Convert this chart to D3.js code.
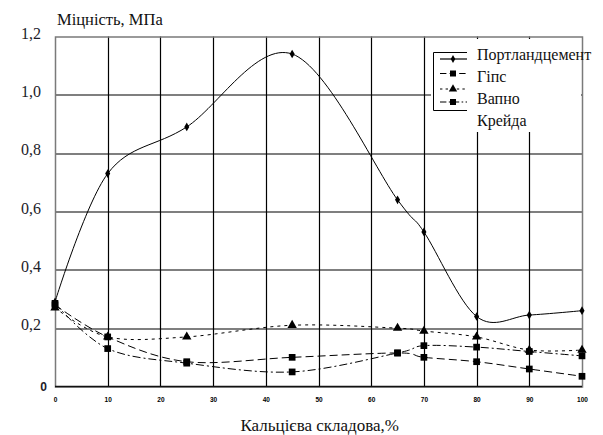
<!DOCTYPE html>
<html>
<head>
<meta charset="utf-8">
<script src="https://cdn.jsdelivr.net/npm/d3@7"></script>
</head>
<body style="margin:0;background:#fff">
<div class="chart"></div>
<script>
// data
var xValues = [0, 10, 25, 45, 65, 70, 80, 90, 100];
var portland = [0.29, 0.73, 0.89, 1.14, 0.64, 0.53, 0.24, 0.245, 0.26];
var gips = [0.28, 0.17, 0.085, 0.10, 0.115, 0.10, 0.085, 0.06, 0.035];
var vapno = [0.27, 0.17, 0.17, 0.21, 0.20, 0.19, 0.17, 0.125, 0.125];
var kreida = [0.285, 0.13, 0.08, 0.05, 0.115, 0.14, 0.135, 0.12, 0.105];
var seriesNames = ["Портландцемент", "Гіпс", "Вапно", "Крейда"];
var xTicks = [0, 10, 20, 30, 40, 50, 60, 70, 80, 90, 100];
var yTicks = [0, 0.2, 0.4, 0.6, 0.8, 1.0, 1.2];
var yTitle = "Міцність, МПа";
var xTitle = "Кальцієва складова,%";

var series = [
  { name: seriesNames[0], values: portland, dash: null, symbol: d3.symbolDiamond, size: 22 },
  { name: seriesNames[1], values: gips, dash: "8,4", symbol: d3.symbolSquare, size: 45 },
  { name: seriesNames[2], values: vapno, dash: "3,4", symbol: d3.symbolTriangle, size: 38 },
  { name: seriesNames[3], values: kreida, dash: "8,3,2,3", symbol: d3.symbolSquare, size: 45 }
];

var W = 603, H = 435;
var margin = { top: 36.5, right: 21, bottom: 48.5, left: 55 },
    width = W - margin.left - margin.right,
    height = H - margin.top - margin.bottom;

var svg = d3.select(".chart")
  .append("svg")
  .attr("width", W)
  .attr("height", H);

var g = svg.append("g")
  .attr("transform", "translate(" + margin.left + "," + margin.top + ")");

var x = d3.scaleLinear().domain([0, 100]).range([0, width]);
var y = d3.scaleLinear().domain([0, 1.2]).range([height, 0]);

// serif text, forced so nothing else overrides it
function serifText(sel, size) {
  return sel
    .attr("font-family", "Liberation Serif, Tinos, serif")
    .style("font-family", "'Liberation Serif', Tinos, serif", "important")
    .style("font-size", size + "px", "important");
}
function sansText(sel, size) {
  return sel
    .attr("font-family", "Liberation Sans, Arimo, sans-serif")
    .style("font-family", "'Liberation Sans', Arimo, sans-serif", "important")
    .style("font-size", size + "px", "important")
    .style("font-weight", "bold", "important");
}

// grid lines
g.append("g")
  .selectAll("line")
  .data(xTicks.filter(function (d) { return d > 0 && d < 100; }))
  .enter().append("line")
  .attr("x1", function (d) { return Math.round(x(d)) + 0.5; })
  .attr("x2", function (d) { return Math.round(x(d)) + 0.5; })
  .attr("y1", 0).attr("y2", height)
  .attr("stroke", "#000").attr("stroke-width", 1.2);

g.append("g")
  .selectAll("line")
  .data(yTicks.filter(function (d) { return d > 0 && d < 1.2; }))
  .enter().append("line")
  .attr("x1", 0).attr("x2", width)
  .attr("y1", function (d) { return Math.round(y(d)) + 0.5; })
  .attr("y2", function (d) { return Math.round(y(d)) + 0.5; })
  .attr("stroke", "#000").attr("stroke-width", 1.2);

// frame
g.append("rect")
  .attr("x", 0.5).attr("y", 0.5)
  .attr("width", width).attr("height", height)
  .attr("fill", "none").attr("stroke", "#7a7a7a").attr("stroke-width", 1.5);
g.append("line")
  .attr("x1", 0).attr("x2", width)
  .attr("y1", height).attr("y2", height)
  .attr("stroke", "#111").attr("stroke-width", 1.6);

// legend background hides the grid behind it
var lg = svg.append("g");
lg.append("rect")
  .attr("x", 431).attr("y", 39)
  .attr("width", 150).attr("height", 93)
  .attr("fill", "#fff");

// y axis labels
var yAxis = g.append("g")
  .call(d3.axisLeft(y).tickValues(yTicks).tickSize(0).tickPadding(14)
    .tickFormat(function (d) { return d === 0 ? "" : d3.format(".1f")(d).replace(".", ","); }));
yAxis.select(".domain").remove();
yAxis.attr("font-family", null).attr("font-size", null);
serifText(yAxis.selectAll("text"), 16)
  .attr("fill", "#1c1c28")
  .attr("dy", "0.1em");
// the zero label is a bold sans glyph in the picture
sansText(g.append("text"), 12)
  .attr("x", -8).attr("y", y(0)).attr("dy", "0.35em")
  .attr("text-anchor", "end")
  .attr("fill", "#1c1c28")
  .text("0");

// x axis labels (tiny, bold)
var xAxis = g.append("g")
  .attr("transform", "translate(0," + height + ")")
  .call(d3.axisBottom(x).tickValues(xTicks).tickSize(0).tickPadding(11));
xAxis.select(".domain").remove();
sansText(xAxis.selectAll("text"), 6.5)
  .attr("fill", "#000");

// titles
serifText(svg.append("text"), 16.5)
  .attr("x", 57).attr("y", 25)
  .attr("fill", "#111")
  .text(yTitle);

serifText(svg.append("text"), 17)
  .attr("x", 240.5).attr("y", 431)
  .attr("fill", "#111")
  .text(xTitle);

// lines
var line = d3.line()
  .x(function (d, i) { return x(xValues[i]); })
  .y(function (d) { return y(d); })
  .curve(d3.curveCardinal.tension(0));

var sg = g.selectAll(".series")
  .data(series)
  .enter().append("g");

sg.append("path")
  .attr("d", function (s) { return line(s.values); })
  .attr("fill", "none")
  .attr("stroke", "#000")
  .attr("stroke-width", 1)
  .attr("stroke-dasharray", function (s) { return s.dash; });

sg.each(function (s) {
  d3.select(this).selectAll("path.m")
    .data(s.values)
    .enter().append("path")
    .attr("class", "m")
    .attr("transform", function (d, i) { return "translate(" + x(xValues[i]) + "," + y(d) + ")"; })
    .attr("d", d3.symbol().type(s.symbol).size(s.size))
    .attr("fill", "#000");
});

// legend
lg.append("path")
  .attr("d", "M467,52.5H433.5V110.5H467")
  .attr("fill", "none").attr("stroke", "#000").attr("stroke-width", 1);

var symY = [59, 73.5, 89, 102];
var labY = [60, 82, 104, 125.5];

lg.selectAll("line.ls")
  .data(series)
  .enter().append("line")
  .attr("x1", 440).attr("x2", 467)
  .attr("y1", function (d, i) { return symY[i]; })
  .attr("y2", function (d, i) { return symY[i]; })
  .attr("stroke", "#000")
  .attr("stroke-width", 1.2)
  .attr("stroke-dasharray", function (s) { return s.dash ? s.dash.split(",").map(function (v) { return v * 0.8; }).join(",") : null; });

lg.selectAll("path.lm")
  .data(series)
  .enter().append("path")
  .attr("transform", function (d, i) { return "translate(453," + symY[i] + ")"; })
  .attr("d", function (s) { return d3.symbol().type(s.symbol).size(s.size * 0.8)(); })
  .attr("fill", "#000");

serifText(lg.selectAll("text.lt")
  .data(series)
  .enter().append("text"), 16)
  .attr("x", 477)
  .attr("y", function (d, i) { return labY[i]; })
  .attr("fill", "#111")
  .text(function (s) { return s.name; });
</script>
</body>
</html>
